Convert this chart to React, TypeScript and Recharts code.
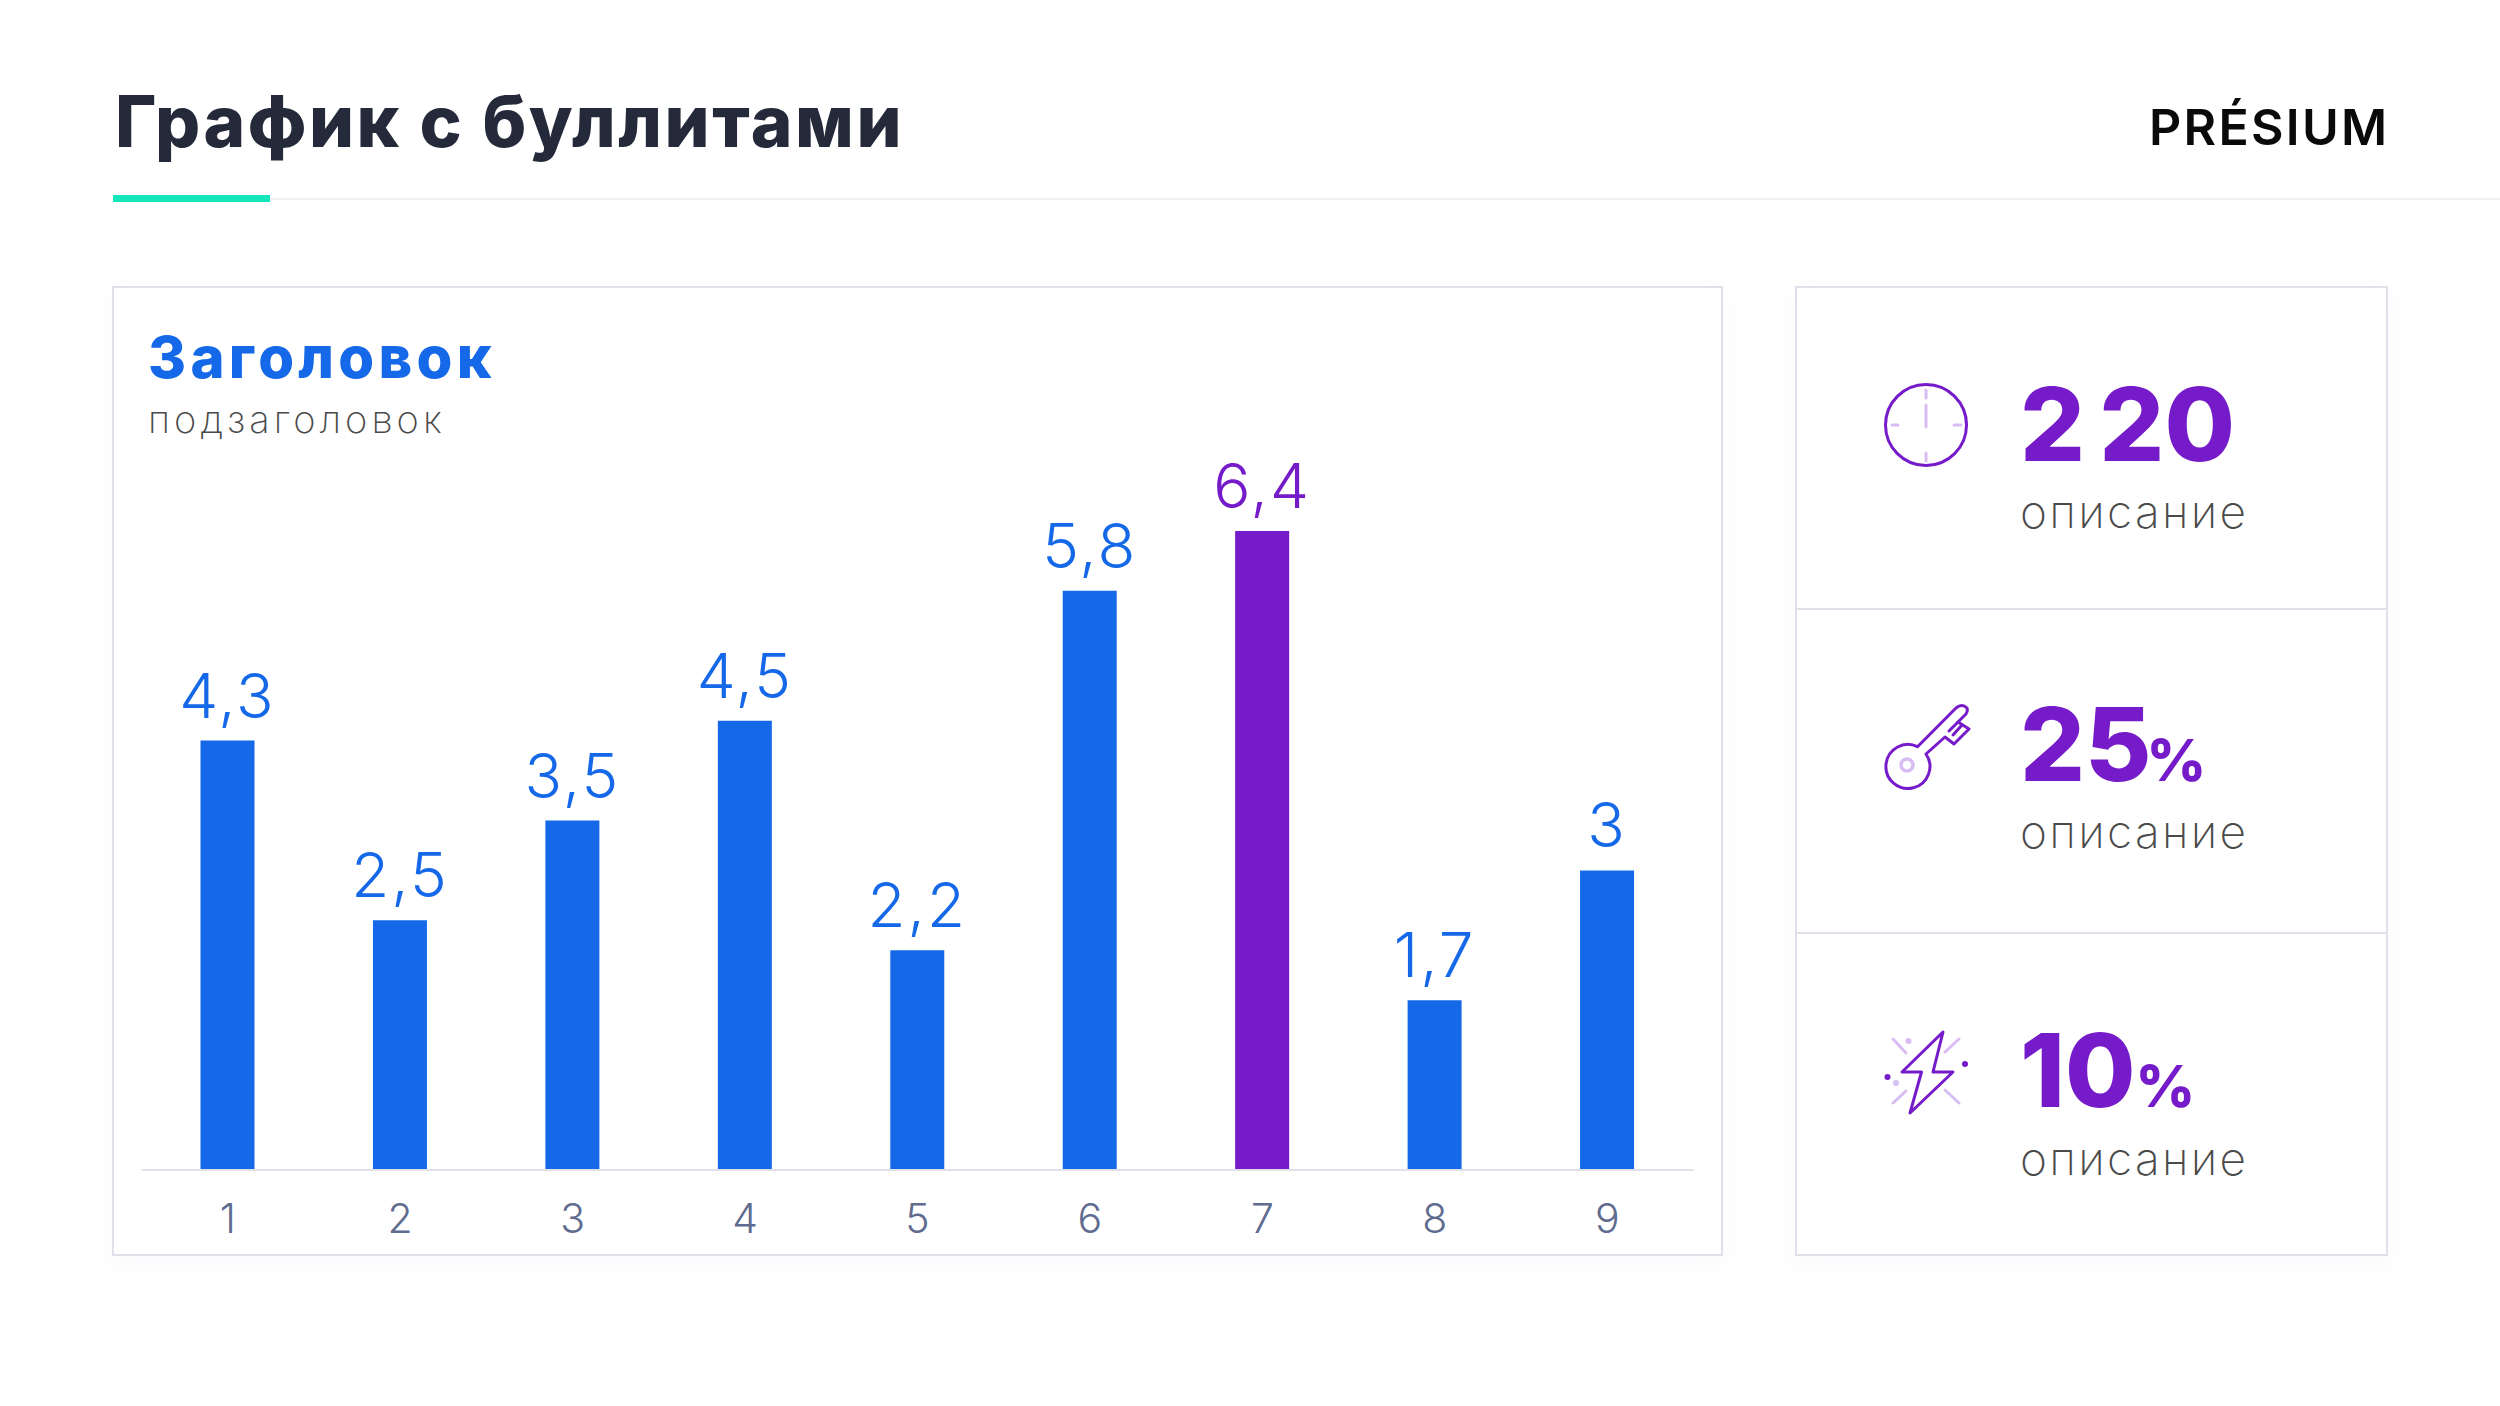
import { BarChart, Bar, XAxis, YAxis, LabelList, Cell } from 'recharts'

const categories = ['1', '2', '3', '4', '5', '6', '7', '8', '9']
const values = [4.3, 2.5, 3.5, 4.5, 2.2, 5.8, 6.4, 1.7, 3]
const highlighted = '7'

const statValues = ['2 20', '25', '10']
const statUnits = ['', '%', '%']
const statLabels = ['описание', 'описание', 'описание']

const chartData = categories.map((label, i) => ({ label, value: values[i] }))

const BLUE = '#1569E8'
const PURPLE = '#751BC9'
const LILAC = '#D8BDF3'
const BORDER = '#DFE0EA'
const FONT = 'Inter, sans-serif'

const valueBaselines = [461, 781, 1107]
const labelBaselines = [528, 848, 1175]
const unitShifts = [0, -5, 0]

function BarValue({ x, y, width, value, index }: any) {
  return (
    <text
      x={x + width / 2}
      y={y - 23}
      textAnchor="middle"
      fontFamily={FONT}
      fontWeight={300}
      fontSize={62}
      letterSpacing={2}
      fill={categories[index] === highlighted ? PURPLE : BLUE}
    >
      {String(value).replace('.', ',')}
    </text>
  )
}

function Icons() {
  return (
    <g fill="none" strokeLinecap="round" strokeLinejoin="round">
      {/* clock */}
      <circle cx={1926} cy={425} r={40.5} stroke={PURPLE} strokeWidth={3} />
      <path d="M1926 390V398M1926 405V427M1926 453V461M1892 425H1898M1954 425H1961" stroke={LILAC} strokeWidth={3} />
      {/* key */}
      <path
        d="M1917.5 746.7L1956 708Q1962 703 1967 708Q1968 711 1966 714L1958 722L1969 729L1954 744L1945 737L1926 754A22 22 0 1 1 1917.5 746.7Z"
        stroke={PURPLE}
        strokeWidth={3}
      />
      <path d="M1958 722L1949 731M1962 725L1953 735" stroke={PURPLE} strokeWidth={3} />
      <circle cx={1907} cy={765} r={6} stroke={LILAC} strokeWidth={3.5} />
      {/* bolt */}
      <path d="M1943 1032L1902 1072H1921.5L1910 1113L1953 1072H1933Z" stroke={PURPLE} strokeWidth={3} />
      <path d="M1893 1039L1906 1053M1959 1039L1945 1052M1893 1103L1906 1091M1959 1103L1945 1090" stroke={LILAC} strokeWidth={3} />
      <circle cx={1908.5} cy={1041} r={3} fill={LILAC} stroke="none" />
      <circle cx={1896} cy={1083} r={3} fill={LILAC} stroke="none" />
      <circle cx={1887.5} cy={1077} r={3} fill={PURPLE} stroke="none" />
      <circle cx={1965} cy={1064} r={3} fill={PURPLE} stroke="none" />
    </g>
  )
}

export default function App() {
  return (
    <div style={{ position: 'absolute', left: 0, top: 0, width: 2500, height: 1406, background: '#fff', overflow: 'hidden' }}>
      {/* cards, dropped behind everything */}
      <div style={{ position: 'absolute', left: 112, top: 286, width: 1611, height: 970, boxSizing: 'border-box', border: `2px solid ${BORDER}`, boxShadow: '0 8px 20px rgba(120,130,170,0.05)' }} />
      <div style={{ position: 'absolute', left: 1795, top: 286, width: 593, height: 970, boxSizing: 'border-box', border: `2px solid ${BORDER}`, boxShadow: '0 8px 20px rgba(120,130,170,0.05)' }} />

      <svg width={2500} height={1406} style={{ position: 'absolute', left: 0, top: 0 }}>
        <text x={115} y={147} fontFamily={FONT} fontWeight={800} fontSize={71} letterSpacing={2.5} fill="#252A3A">График с буллитами</text>
        <rect x={270} y={198} width={2230} height={2} fill="#EFEFF2" />
        <rect x={113} y={195} width={157} height={7} fill="#13E6BB" />
        <text x={2149} y={145} fontFamily={FONT} fontWeight={600} fontSize={50} letterSpacing={2.3} fill="#0A0A0A">PRÉSIUM</text>

        <text x={148} y={378} fontFamily={FONT} fontWeight={800} fontSize={58} letterSpacing={4.3} fill={BLUE}>Заголовок</text>
        <text x={148} y={433} fontFamily={FONT} fontWeight={200} fontSize={38} letterSpacing={4.1} fill="#4A4A4A">подзаголовок</text>

        <rect x={1796} y={608} width={591} height={2} fill={BORDER} />
        <rect x={1796} y={932} width={591} height={2} fill={BORDER} />
        {statValues.map((v, i) => (
          <g key={i}>
            <text x={2020} y={valueBaselines[i]} fontFamily={FONT} fontWeight={800} fontSize={102} wordSpacing={-8} fill={PURPLE}>
              {v}
              <tspan fontSize={58} dx={unitShifts[i]}>{statUnits[i]}</tspan>
            </text>
            <text x={2020} y={labelBaselines[i]} fontFamily={FONT} fontWeight={200} fontSize={46} letterSpacing={2.3} fill="#4A4A4A">{statLabels[i]}</text>
          </g>
        ))}
        <Icons />
      </svg>

      <div style={{ position: 'absolute', left: 113, top: 287 }}>
        <BarChart
          width={1609}
          height={968}
          data={chartData}
          barSize={54}
          margin={{ top: 184, right: 28.5, bottom: 0, left: 28.5 }}
        >
          <XAxis
            dataKey="label"
            height={85}
            axisLine={{ stroke: BORDER, strokeWidth: 2 }}
            tickLine={false}
            interval={0}
            tick={{ fontSize: 41, fill: '#5F6B8F', fontFamily: FONT, fontWeight: 300 }}
            tickMargin={28}
          />
          <YAxis hide domain={[0, 7]} />
          <Bar dataKey="value" fill={BLUE} isAnimationActive={false}>
            {chartData.map((d) => (
              <Cell key={d.label} fill={d.label === highlighted ? PURPLE : BLUE} />
            ))}
            <LabelList dataKey="value" content={BarValue} />
          </Bar>
        </BarChart>
      </div>
    </div>
  )
}
